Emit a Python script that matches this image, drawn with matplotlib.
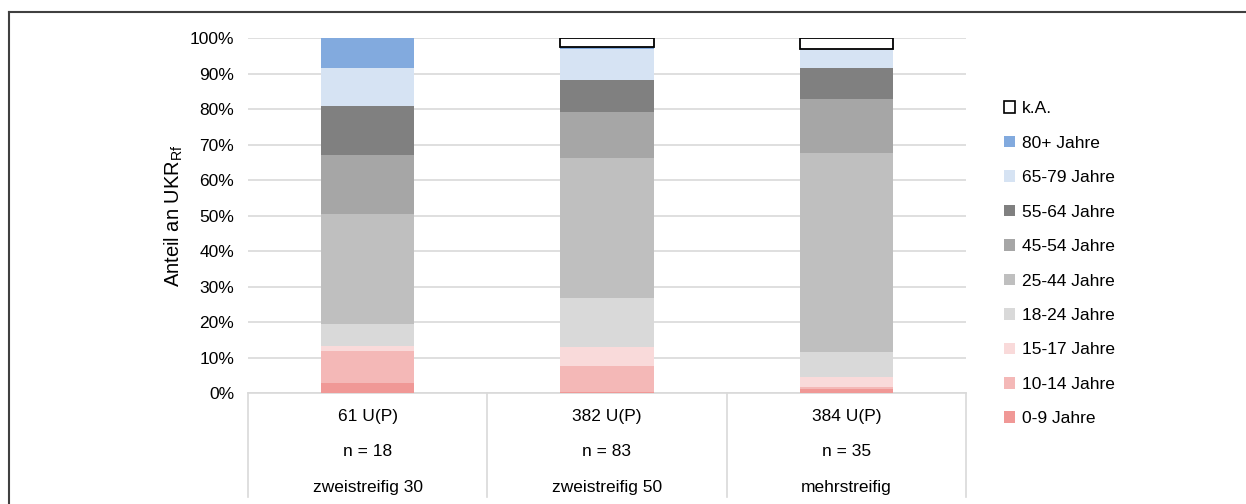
import numpy as np
import matplotlib
matplotlib.use("Agg")
import matplotlib.pyplot as plt
import matplotlib.patches as mpatches

plt.rcParams["font.family"] = ["Liberation Sans Narrow", "Liberation Sans", "DejaVu Sans"]
plt.rcParams["mathtext.fontset"] = "custom"
plt.rcParams["mathtext.rm"] = "Liberation Sans"
plt.rcParams["mathtext.it"] = "Liberation Sans"

# ── Daten (Anteil in %) ──
categories = ["61 U(P)", "382 U(P)", "384 U(P)"]
n_labels = ["n = 18", "n = 83", "n = 35"]
road_types = ["zweistreifig 30", "zweistreifig 50", "mehrstreifig"]

age_groups = ["0-9 Jahre", "10-14 Jahre", "15-17 Jahre", "18-24 Jahre", "25-44 Jahre",
              "45-54 Jahre", "55-64 Jahre", "65-79 Jahre", "80+ Jahre", "k.A."]
share_0_9 = [2.8, 0.4, 1.1]
share_10_14 = [8.9, 7.3, 0.7]
share_15_17 = [1.6, 5.3, 2.6]
share_18_24 = [6.1, 13.9, 7.1]
share_25_44 = [31.0, 39.4, 56.0]
share_45_54 = [16.6, 12.9, 15.4]
share_55_64 = [13.8, 9.0, 8.6]
share_65_79 = [10.7, 8.6, 5.4]
share_80 = [8.5, 0.8, 0.0]
share_ka = [0.0, 2.4, 3.1]

shares = [share_0_9, share_10_14, share_15_17, share_18_24, share_25_44,
          share_45_54, share_55_64, share_65_79, share_80, share_ka]
colors = ["#F09896", "#F4B8B7", "#F9DADA", "#D9D9D9", "#BFBFBF",
          "#A6A6A6", "#808080", "#D6E3F3", "#82AADE", "white"]

fig = plt.figure(figsize=(12.46, 5.04), dpi=100)
ax = fig.add_axes([0.199, 0.2202, 0.5763, 0.7044])

x = np.arange(len(categories))
bottom = np.zeros(len(categories))
handles = []
for label, vals, col in zip(age_groups, shares, colors):
    vals = np.array(vals)
    mask = vals > 0
    if label == "k.A.":
        ax.bar(x[mask], vals[mask], 0.39, bottom=bottom[mask], color=col,
               edgecolor="black", linewidth=1.3, zorder=3)
        handles.append(mpatches.Patch(facecolor=col, edgecolor="black", linewidth=1.2, label=label))
    else:
        ax.bar(x[mask], vals[mask], 0.39, bottom=bottom[mask], color=col, linewidth=0, zorder=3)
        handles.append(mpatches.Patch(facecolor=col, edgecolor="none", label=label))
    bottom += vals

ax.set_xlim(-0.5, 2.5)
ax.set_ylim(0, 100)
ax.set_yticks(np.arange(0, 101, 10))
ax.set_yticklabels([f"{v}%" for v in range(0, 101, 10)], fontsize=12.5)
ax.tick_params(axis="y", length=0, pad=10)
ax.grid(axis="y", color="#D9D9D9", linewidth=1.2, zorder=0)
for s in ["top", "right", "left"]:
    ax.spines[s].set_visible(False)
ax.spines["bottom"].set_color("#D9D9D9")
ax.spines["bottom"].set_linewidth(1.2)

# Kategorie-Tabelle unter der Achse
ax.set_xticks([])
for b in np.arange(-0.5, 3.0, 1.0):
    ax.axvline(b, ymin=-0.293, ymax=0, color="#D9D9D9", linewidth=1.2, clip_on=False)
trans = ax.get_xaxis_transform()
for xi, c, n, r in zip(x, categories, n_labels, road_types):
    ax.text(xi, -0.065, c, transform=trans, ha="center", va="center", fontsize=12.5)
    ax.text(xi, -0.164, n, transform=trans, ha="center", va="center", fontsize=12.5)
    ax.text(xi, -0.265, r, transform=trans, ha="center", va="center", fontsize=12.5)

ax.set_ylabel(r"Anteil an UKR$_{\mathrm{Rf}}$", fontsize=14.5, labelpad=3)

fig.legend(handles=handles[::-1], loc="upper left", bbox_to_anchor=(0.793, 0.83),
           frameon=False, fontsize=12.5, labelspacing=1.12,
           handlelength=0.65, handleheight=0.65, handletextpad=0.4)

# äußerer Rahmen (links/oben)
fig.add_artist(plt.Line2D([0.0075, 0.0075], [0, 0.976], color="#404040", linewidth=1.5))
fig.add_artist(plt.Line2D([0.0075, 1.0], [0.976, 0.976], color="#404040", linewidth=1.5))

plt.savefig("out.png", dpi=100, facecolor="white")
plt.close()
